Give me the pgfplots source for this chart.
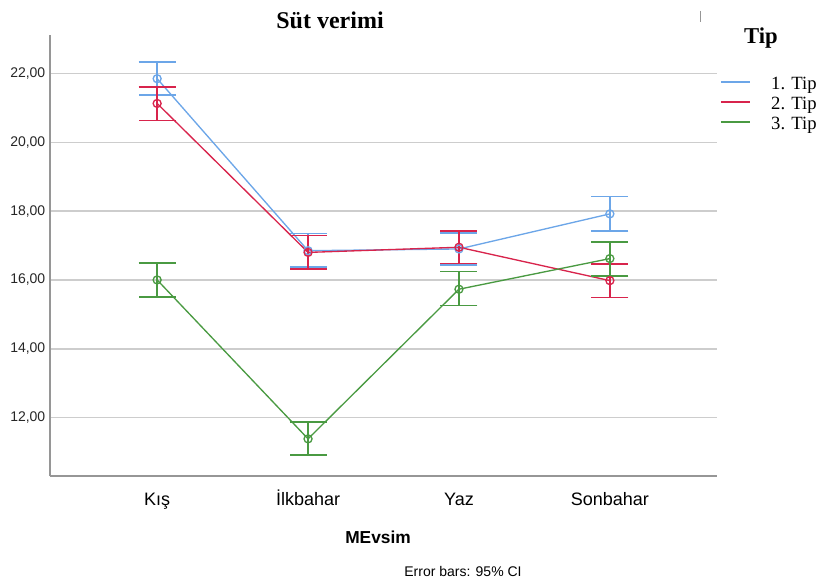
\documentclass[border=0pt]{standalone}
\usepackage{pgfplots}
\pgfplotsset{compat=1.18}
\usepackage{pgfplotstable}
\usepackage{fontspec}
\setmainfont{Liberation Serif}
\setsansfont{Liberation Sans}

\definecolor{tipA}{RGB}{108,166,232}
\definecolor{tipB}{RGB}{216,36,76}
\definecolor{tipC}{RGB}{74,154,66}
\definecolor{gridgray}{RGB}{205,205,205}
\definecolor{axisgray}{RGB}{150,150,150}

% mean, upper and lower 95% CI distance per season
\pgfplotstableread{
x  y      ep    em
0  21.85  0.49  0.48
1  16.85  0.50  0.47
2  16.90  0.47  0.46
3  17.92  0.50  0.50
}\tipone
\pgfplotstableread{
x  y      ep    em
0  21.13  0.48  0.49
1  16.80  0.49  0.48
2  16.95  0.47  0.47
3  15.98  0.49  0.49
}\tiptwo
\pgfplotstableread{
x  y      ep    em
0  16.00  0.49  0.49
1  11.38  0.49  0.47
2  15.73  0.51  0.47
3  16.62  0.49  0.50
}\tipthree

\pgfplotsset{
  cibars/.style={
    line width=1pt, mark=o, mark size=3pt, forget plot,
    error bars/y dir=both, error bars/y explicit,
    error bars/error bar style={line width=1.15pt},
    error bars/error mark options={mark size=13.9pt, line width=1.15pt, rotate=90},
  },
}

\begin{document}
\begin{tikzpicture}
\useasboundingbox (0pt,0pt) rectangle (612pt,437.25pt);
\begin{axis}[
  at={(37.5pt,80.25pt)}, anchor=south west,
  scale only axis, width=500.25pt, height=330.75pt,
  xmin=-0.71, xmax=3.71, ymin=10.3, ymax=23.12,
  axis x line*=bottom, axis y line*=left,
  axis line style={draw=axisgray, line width=1.1pt},
  xtick={0,1,2,3}, xticklabels={Kış,İlkbahar,Yaz,Sonbahar},
  ytick={12,14,16,18,20,22},
  ymajorgrids, grid style={gridgray, line width=1.2pt},
  major tick length=0pt,
  xticklabel style={font=\sffamily\fontsize{13.5pt}{15pt}\selectfont, anchor=base, yshift=-21.75pt},
  yticklabel style={font=\sffamily\fontsize{10.5pt}{12pt}\selectfont, text=black!85,
    /pgf/number format/.cd, fixed, fixed zerofill, precision=2, use comma, assume math mode=true},
  clip=false,
  legend style={
    at={(1.0045,0.9066)}, anchor=north west, draw=none, fill=none,
    inner sep=0pt, outer sep=0pt,
    font=\rmfamily\fontsize{14pt}{16pt}\selectfont,
    nodes={inner sep=0pt, text height=10pt, text depth=0pt},
    row sep=5pt,
    /tikz/every odd column/.append style={column sep=15.5pt},
  },
  legend cell align=left,
  legend image code/.code={\draw[#1] (0pt,0.7pt) -- (21.75pt,0.7pt);},
]
\addplot[color=tipA, cibars] table[x=x, y=y, y error plus=ep, y error minus=em] {\tipone};
\addplot[color=tipB, cibars] table[x=x, y=y, y error plus=ep, y error minus=em] {\tiptwo};
\addplot[color=tipC, cibars] table[x=x, y=y, y error plus=ep, y error minus=em] {\tipthree};
\addlegendimage{draw=tipA, line width=1.15pt}
\addlegendentry{1. Tip}
\addlegendimage{draw=tipB, line width=1.15pt}
\addlegendentry{2. Tip}
\addlegendimage{draw=tipC, line width=1.15pt}
\addlegendentry{3. Tip}
\end{axis}
\node[font=\rmfamily\bfseries\fontsize{18pt}{20pt}\selectfont] at (247.5pt,422.25pt) {Süt verimi};
\node[font=\rmfamily\bfseries\fontsize{17pt}{19pt}\selectfont] at (570.75pt,408.75pt) {Tip};
\node[font=\sffamily\bfseries\fontsize{13pt}{15pt}\selectfont] at (283.5pt,34.5pt) {MEvsim};
\node[font=\sffamily\fontsize{10.5pt}{12pt}\selectfont] at (347.25pt,9pt) {Error bars: 95\% CI};
\draw[axisgray, line width=0.6pt] (525pt,429pt) -- (525pt,420.75pt);
\end{tikzpicture}
\end{document}
